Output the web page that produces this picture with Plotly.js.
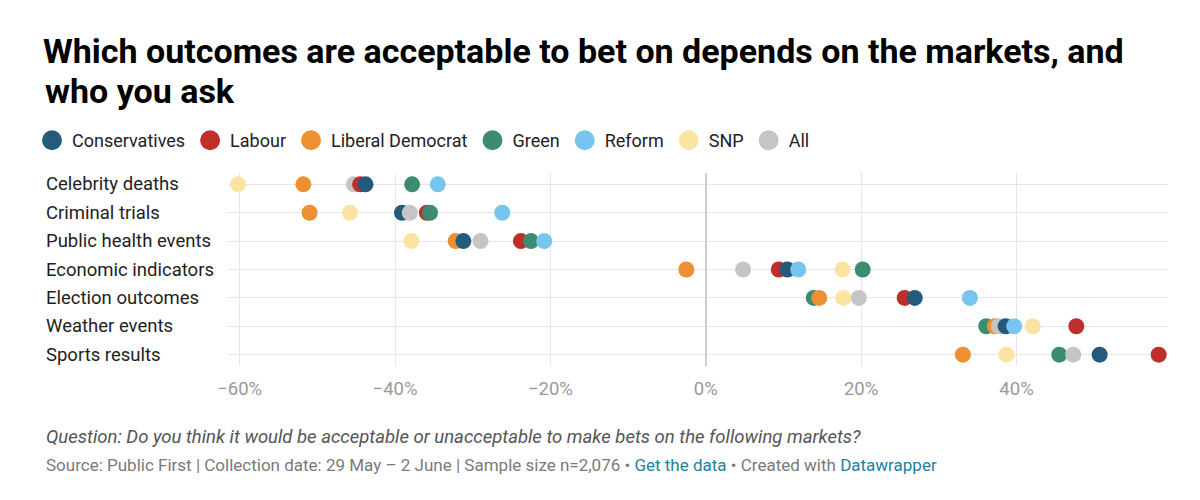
<!DOCTYPE html>
<html>
<head>
<meta charset="utf-8">
<script src="https://cdn.plot.ly/plotly-3.0.1.min.js"></script>
<style>
  html, body { margin: 0; padding: 0; background: #fff; }
  #chart { width: 1200px; height: 500px; }
</style>
</head>
<body>
<div id="chart"></div>
<script>
const categories = ['Celebrity deaths', 'Criminal trials', 'Public health events', 'Economic indicators', 'Election outcomes', 'Weather events', 'Sports results'];
const parties = ['Conservatives', 'Labour', 'Liberal Democrat', 'Green', 'Reform', 'SNP', 'All'];
const partyColors = ['#245b7c', '#bf2f2a', '#ed9034', '#3b8c70', '#76c5ef', '#fbe3a2', '#c5c5c5'];

const conservatives = [-43.8, -39.1, -31.2, 10.5, 26.9, 38.6, 50.7];
const labour        = [-44.5, -35.9, -23.8, 9.4, 25.6, 47.7, 58.3];
const libDem        = [-51.8, -51.0, -32.2, -2.5, 14.6, 37.2, 33.1];
const green         = [-37.8, -35.5, -22.5, 20.2, 13.9, 36.1, 45.5];
const reform        = [-34.5, -26.2, -20.8, 11.9, 34.0, 39.7, null];
const snp           = [-60.2, -45.8, -37.9, 17.6, 17.7, 42.1, 38.7];
const allVoters     = [-45.3, -38.1, -29.0, 4.8, 19.7, 37.7, 47.3];

const tickValues = [-60, -40, -20, 0, 20, 40];
const tickLabels = ['\u221260%', '\u221240%', '\u221220%', '0%', '20%', '40%'];

const titleLine1 = 'Which outcomes are acceptable to bet on depends on the markets, and';
const titleLine2 = 'who you ask';
const questionText = 'Question: Do you think it would be acceptable or unacceptable to make bets on the following markets?';
const sourceText = 'Source: Public First | Collection date: 29 May \u2013 2 June | Sample size n=2,076 \u2022 <span style="color:#1d81a2">Get the data</span> \u2022 Created with <span style="color:#1d81a2">Datawrapper</span>';

const seriesValues = [conservatives, labour, libDem, green, reform, snp, allVoters];

// One point list sorted by value, so the rightmost dot is drawn on top
const points = [];
seriesValues.forEach((vals, p) => {
  vals.forEach((v, c) => {
    if (v !== null) points.push({ x: v, y: categories[c], color: partyColors[p], name: parties[p] });
  });
});
points.sort((a, b) => a.x - b.x);

const traces = [{
  type: 'scatter', mode: 'markers',
  x: points.map(p => p.x), y: points.map(p => p.y),
  text: points.map(p => p.name),
  marker: { size: 16, color: points.map(p => p.color), line: { width: 0 } },
  showlegend: false, hoverinfo: 'text+x', cliponaxis: false
}];
parties.forEach((name, i) => {
  traces.push({
    type: 'scatter', mode: 'markers', name: name,
    x: [null], y: [null],
    marker: { size: 16, color: partyColors[i], line: { width: 4, color: partyColors[i] } },
    showlegend: true
  });
});

const plotTop = 173, plotBottom = 366;
const plotH = plotBottom - plotTop;
const plotL = 228, plotR = 1168;
const plotW = plotR - plotL;
const leftX = (44 - plotL) / plotW;

const annotations = categories.map(c => ({
  text: c, x: leftX, xref: 'paper', xanchor: 'left',
  y: c, yref: 'y', yanchor: 'middle', showarrow: false,
  font: { family: 'Roboto', size: 18.5, color: '#1e1e1e' }
}));
annotations.push({
  text: titleLine2, x: leftX - 1 / plotW, xref: 'paper', xanchor: 'left',
  y: (plotBottom - 91) / plotH, yref: 'paper', yanchor: 'middle', showarrow: false,
  font: { family: 'Roboto', size: 34, weight: 700, color: '#000' }
});
annotations.push({
  text: questionText, x: leftX, xref: 'paper', xanchor: 'left',
  y: (plotBottom - 437) / plotH, yref: 'paper', yanchor: 'middle', showarrow: false,
  font: { family: 'Roboto', size: 18.5, color: '#555', style: 'italic' }
});
annotations.push({
  text: sourceText, x: leftX, xref: 'paper', xanchor: 'left',
  y: (plotBottom - 465) / plotH, yref: 'paper', yanchor: 'middle', showarrow: false,
  font: { family: 'Roboto', size: 17, color: '#7a7a7a' }
});

const layout = {
  width: 1200, height: 500,
  paper_bgcolor: '#fff', plot_bgcolor: '#fff',
  font: { family: 'Roboto', color: '#222' },
  margin: { l: plotL, r: 1200 - plotR, t: plotTop, b: 500 - plotBottom, pad: 0 },
  title: {
    text: titleLine1, xref: 'container', yref: 'container',
    x: 43 / 1200, xanchor: 'left', y: 1 - 51 / 500, yanchor: 'middle',
    font: { family: 'Roboto', size: 34, weight: 700, color: '#000' }
  },
  showlegend: true,
  legend: {
    orientation: 'h', xref: 'container', yref: 'container',
    x: 32 / 1200, xanchor: 'left', y: 1 - 122 / 500, yanchor: 'top',
    font: { family: 'Roboto', size: 18, color: '#222' },
    itemclick: false, itemdoubleclick: false
  },
  xaxis: {
    range: [-61.5, 59.5], tickvals: tickValues, ticktext: tickLabels,
    showgrid: true, gridcolor: '#e6e6e6', gridwidth: 1,
    zeroline: true, zerolinecolor: '#cccccc', zerolinewidth: 1.5,
    showline: false, ticks: '', ticklabelstandoff: 9,
    tickfont: { family: 'Roboto', size: 18.5, color: '#999' },
    fixedrange: true
  },
  yaxis: {
    type: 'category', categoryorder: 'array', categoryarray: categories,
    range: [6.4, -0.4], showgrid: true, gridcolor: '#e6e6e6', gridwidth: 1,
    showticklabels: false, zeroline: false, showline: false, ticks: '',
    fixedrange: true
  },
  annotations: annotations
};

Plotly.newPlot('chart', traces, layout, { displayModeBar: false });
</script>
</body>
</html>
